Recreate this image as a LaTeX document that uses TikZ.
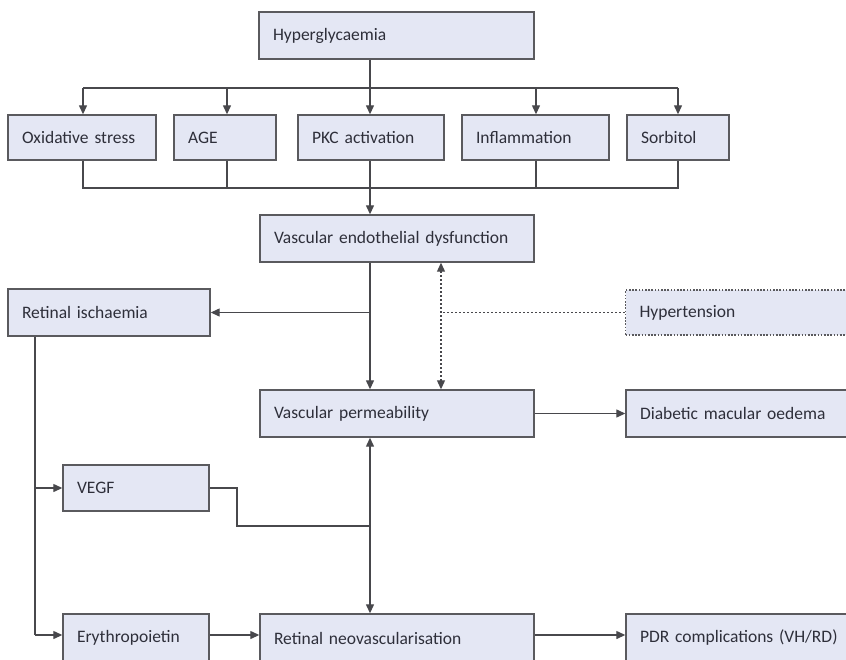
\documentclass[tikz,border=0pt]{standalone}
\usepackage{fontspec}
\setmainfont{Carlito}
\usetikzlibrary{arrows.meta}
\definecolor{boxfill}{HTML}{E4E7F4}
\definecolor{boxline}{HTML}{5A5A5E}
\definecolor{txt}{HTML}{2E2F3A}
\definecolor{wire}{HTML}{48484C}
\begin{document}
\begin{tikzpicture}[x=1pt,y=-1pt,
  box/.style={draw=boxline, line width=1.4pt, fill=boxfill, text=txt,
    font=\fontsize{17.5}{20}\selectfont, inner xsep=14pt, inner ysep=0pt,
    align=left, minimum height=46pt, anchor=center},
  dotbox/.style={box, dash pattern=on 1.6pt off 1.6pt, line width=1.2pt},
  wirel/.style={draw=wire, line width=1.3pt},
  arr/.style={wirel, -{Triangle[length=9pt,width=8pt]}},
  darr/.style={wirel, {Triangle[length=9pt,width=8pt]}-{Triangle[length=9pt,width=8pt]}},
  dotw/.style={wirel, dash pattern=on 2pt off 2pt, line width=1.1pt}
]
\useasboundingbox (0,0) rectangle (846,659);
% nodes
\node[box, text width=247pt, minimum height=47pt] (hyp) at (396.5,35.5) {Hyperglycaemia};
\node[box, text width=120pt, minimum height=45pt] (ox) at (82,137.5) {Oxidative stress};
\node[box, text width=74pt, minimum height=45pt] (age) at (225,137.5) {AGE};
\node[box, text width=118pt, minimum height=45pt] (pkc) at (371,137.5) {PKC activation};
\node[box, text width=119pt, minimum height=45pt] (inf) at (535.5,137.5) {Inflammation};
\node[box, text width=74pt, minimum height=45pt] (sor) at (678,137.5) {Sorbitol};
\node[box, text width=246pt, minimum height=47pt] (ved) at (397,238.5) {Vascular endothelial dysfunction};
\node[box, text width=174pt, minimum height=47pt] (ri) at (109,312.5) {Retinal ischaemia};
\node[dotbox, text width=200pt, minimum height=45pt] (hyt) at (739.5,312.5) {Hypertension};
\node[box, text width=246pt, minimum height=47pt] (vp) at (397,413.5) {Vascular permeability};
\node[box, text width=200pt, minimum height=47pt] (dmo) at (740,413.5) {Diabetic macular oedema};
\node[box, text width=118pt, minimum height=46pt] (vegf) at (136,488) {VEGF};
\node[box, text width=118pt, minimum height=48pt] (ery) at (136,638) {Erythropoietin};
\node[box, text width=246pt, minimum height=48pt] (rn) at (397,638) {Retinal neovascularisation};
\node[box, text width=200pt, minimum height=48pt] (pdr) at (740,638) {PDR complications (VH/RD)};
% coordinates
\coordinate (t0) at (370,88);
\coordinate (t1) at (83,88);
\coordinate (t5) at (678,88);
\coordinate (g0) at (370,188);
\coordinate (g1) at (83,188);
\coordinate (g5) at (678,188);
\coordinate (br) at (370,312.5);
\coordinate (hd) at (441,312.5);
\coordinate (lv) at (35,488);
\coordinate (lb) at (35,635);
\coordinate (vk1) at (237,488);
\coordinate (vk2) at (237,526);
\coordinate (vj) at (370,526);
% distribution from hyperglycaemia
\draw[wirel] (hyp.south -| t0) -- (t0);
\draw[wirel] (t1) -- (t5);
\draw[arr] (t1) -- (ox.north -| t1);
\draw[arr] (227,88) -- (age.north -| 227,0);
\draw[arr] (t0) -- (pkc.north -| t0);
\draw[arr] (536,88) -- (inf.north -| 536,0);
\draw[arr] (t5) -- (sor.north -| t5);
% gather
\draw[wirel] (ox.south -| g1) -- (g1) -- (g5) -- (sor.south -| g5);
\draw[wirel] (age.south -| 227,0) -- (227,188);
\draw[wirel] (inf.south -| 536,0) -- (536,188);
\draw[wirel] (pkc.south -| g0) -- (g0);
\draw[arr] (g0) -- (ved.north -| g0);
% to vascular permeability and retinal ischaemia
\draw[arr] (ved.south -| br) -- (vp.north -| br);
\draw[arr] (br) -- (ri.east);
% hypertension dotted
\draw[dotw] (hyt.west) -- (hd);
\draw[dotw, {Triangle[length=9pt,width=8pt]}-{Triangle[length=9pt,width=8pt]}] (ved.south -| hd) -- (vp.north -| hd);
% to DMO
\draw[arr] (vp.east) -- (dmo.west);
% left trunk
\draw[wirel] (ri.south -| lv) -- (lb);
\draw[arr] (lv) -- (vegf.west);
\draw[arr] (lb) -- (ery.west |- lb);
% VEGF link
\draw[wirel] (vegf.east) -- (vk1) -- (vk2) -- (vj);
\draw[darr] (vp.south -| vj) -- (rn.north -| vj);
% bottom row
\draw[arr] (ery.east |- lb) -- (rn.west |- lb);
\draw[arr] (rn.east |- lb) -- (pdr.west |- lb);
\end{tikzpicture}
\end{document}
